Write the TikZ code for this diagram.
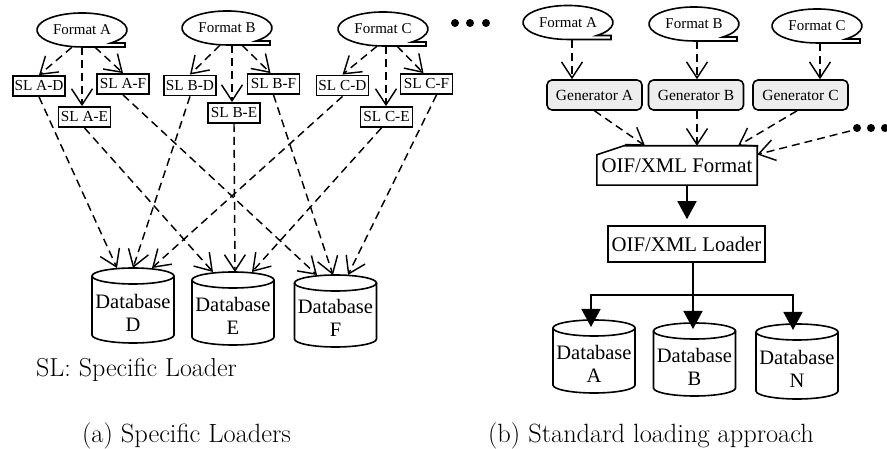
\documentclass[tikz,border=0pt]{standalone}
\usepackage{fontspec}
\newfontfamily\tms{Liberation Serif}
\usetikzlibrary{arrows.meta,calc}
\newcommand\fmtnode[4]{%
 \draw[shapeline] ({#2+28.9},{#3+13}) arc[start angle=50,end angle=-270,x radius=45,y radius=17] -- ({#2+43},{#3+17}) -- ({#2+43},{#3+13}) -- cycle;
 \node[fmt] (#1) at (#2,#3) {#4};}
\newcommand\dbnode[5]{%
 \draw[shapeline] ({#2-41},{#3+8}) -- ({#2-41},{#4-8}) arc[start angle=180,end angle=0,x radius=41,y radius=8] -- ({#2+41},{#3+8});
 \draw[shapeline] (#2,{#3+8}) ellipse[x radius=41,y radius=8];
 \coordinate (#1top) at (#2,#3);
 \node[dbtext] (#1) at (#2,{(#3+#4)/2+7}) {#5};}
\begin{document}
\begin{tikzpicture}[x=1pt,y=-1pt,
 shapeline/.style={line width=1.6pt},
 fmt/.style={inner sep=0pt, minimum width=90pt, minimum height=34pt, font=\tms\fontsize{15}{17}\selectfont},
 slbox/.style={draw, line width=1.8pt, inner sep=0pt, minimum width=52pt, minimum height=20pt, font=\tms\fontsize{15.3}{17}\selectfont},
 genbox/.style={draw, line width=1.6pt, rounded corners=5pt, fill=black!7, inner sep=0pt, minimum width=95pt, minimum height=30pt, font=\tms\fontsize{15.5}{17}\selectfont},
 dbtext/.style={align=center, inner sep=0pt, font=\tms\fontsize{20.5}{23}\selectfont},
 bigtext/.style={inner sep=0pt, font=\tms\fontsize{20.8}{23}\selectfont},
 dasharrow/.style={line width=1.45pt, dash pattern=on 8pt off 5pt, -{Straight Barb[length=16pt,width=21pt,line width=1.45pt]}},
 solidarrow/.style={line width=1.6pt, -{Triangle[length=18pt,width=19pt]}},
 caption/.style={inner sep=0pt, font=\fontsize{26.4}{30}\selectfont}
]
\useasboundingbox (0,0) rectangle (887,449);

% ---------- (a) ----------
\fmtnode{fa}{82}{30}{Format A}
\fmtnode{fb}{227}{28}{Format B}
\fmtnode{fc}{383}{29}{Format C}

\fill (455,23) circle[radius=4];
\fill (470,23) circle[radius=4];
\fill (486,23) circle[radius=4];

\node[slbox] (slad) at (39,86) {SL A-D};
\node[slbox] (slaf) at (123,84) {SL A-F};
\node[slbox] (slae) at (84.5,117) {SL A-E};
\node[slbox] (slbd) at (190,85.5) {SL B-D};
\node[slbox] (slbf) at (273.5,84) {SL B-F};
\node[slbox] (slbe) at (234,113) {SL B-E};
\node[slbox] (slcd) at (342.5,85.5) {SL C-D};
\node[slbox] (slcf) at (426.5,84) {SL C-F};
\node[slbox] (slce) at (386.5,117) {SL C-E};

\dbnode{dbd}{133}{268}{343}{Database\\D}
\dbnode{dbe}{233}{272}{345}{Database\\E}
\dbnode{dbf}{335.5}{275}{347}{Database\\F}

\draw[dasharrow] ([xshift=-10pt]fa.south) -- (slad.north);
\draw[dasharrow] (fa.south) -- ([xshift=-2.5pt]slae.north);
\draw[dasharrow] ([xshift=13pt]fa.south) -- (slaf.north);
\draw[dasharrow] ([xshift=-7pt]fb.south) -- (slbd.north);
\draw[dasharrow] ([xshift=5pt]fb.south) -- ([xshift=-2pt]slbe.north);
\draw[dasharrow] ([xshift=15pt]fb.south) -- ([xshift=-3pt]slbf.north);
\draw[dasharrow] ([xshift=-6pt]fc.south) -- (slcd.north);
\draw[dasharrow] ([xshift=3pt]fc.south) -- ([xshift=-0.5pt]slce.north);
\draw[dasharrow] ([xshift=14pt]fc.south) -- ([xshift=-3pt]slcf.north);

\draw[dasharrow] (slad.south) -- ([xshift=-16pt]dbdtop);
\draw[dasharrow] (slbd.south) -- (dbdtop);
\draw[dasharrow] (slcd.south) -- ([xshift=19pt]dbdtop);
\draw[dasharrow] (slae.south) -- ([xshift=-20pt]dbetop);
\draw[dasharrow] (slbe.south) -- ([xshift=2pt]dbetop);
\draw[dasharrow] ([xshift=-5pt]slce.south) -- ([xshift=19pt]dbetop);
\draw[dasharrow] (slaf.south) -- ([xshift=-18.5pt]dbftop);
\draw[dasharrow] (slbf.south) -- ([xshift=-2.5pt]dbftop);
\draw[dasharrow] ([xshift=10pt]slcf.south) -- ([xshift=12.5pt]dbftop);

\node[caption, anchor=base west, font=\fontsize{26}{30}\selectfont] (sllegend) at (36,377) {SL: Specific Loader};
\node[caption, anchor=base] (capa) at (186.5,442) {(a) Specific Loaders};

% ---------- (b) ----------
\fmtnode{rfa}{568}{22.5}{Format A}
\fmtnode{rfb}{694}{24}{Format B}
\fmtnode{rfc}{817}{26}{Format C}

\node[genbox] (gena) at (594.5,95) {Generator A};
\node[genbox] (genb) at (696,95) {Generator B};
\node[genbox] (genc) at (800.5,95) {Generator C};

\node[bigtext, minimum width=160pt, minimum height=39pt] (oif) at (677,165.5) {OIF/XML Format};
\draw[shapeline] ($(oif.north west)+(0,9)$) -- ($(oif.north west)+(27,0)$) -- (oif.north east) -- (oif.south east) -- (oif.south west) -- cycle;

\node[bigtext, draw, line width=1.6pt, minimum width=157pt, minimum height=36pt] (loader) at (686.5,244) {OIF/XML Loader};

\fill (857,128) circle[radius=4];
\fill (871,128) circle[radius=4];
\fill (885,128) circle[radius=4];
\coordinate (dotsr) at (850,131);

\dbnode{dba}{594}{320}{393}{Database\\A}
\dbnode{dbb}{694.5}{323}{396}{Database\\B}
\dbnode{dbn}{797}{324}{399}{Database\\N}

\draw[dasharrow] ([xshift=4pt]rfa.south) -- ([xshift=-22.5pt]gena.north);
\draw[dasharrow] ([xshift=3pt]rfb.south) -- ([xshift=1pt]genb.north);
\draw[dasharrow] ([xshift=3pt]rfc.south) -- ([xshift=19.5pt]genc.north);

\draw[dasharrow] (gena.south) -- ([xshift=-32pt]oif.north);
\draw[dasharrow] ([xshift=1pt]genb.south) -- ([xshift=20pt]oif.north);
\draw[dasharrow] ([xshift=-3.5pt]genc.south) -- ([xshift=61pt]oif.north);
\draw[dasharrow] (dotsr) -- ([yshift=11pt]oif.east);

\draw[solidarrow, shorten >=6pt] ([xshift=10pt]oif.south) -- ([xshift=0.5pt]loader.north);
\coordinate (jn) at (693,295);
\draw[solidarrow, shorten >=-6pt] ([xshift=6.5pt]loader.south) -- ([xshift=-1.5pt]dbbtop);
\draw[solidarrow, shorten >=-7pt] (jn) -| ([xshift=-3pt]dbatop);
\draw[solidarrow, shorten >=-6pt] (jn) -| ([xshift=-4pt]dbntop);

\node[caption, anchor=base] (capb) at (651,442) {(b) Standard loading approach};
\end{tikzpicture}
\end{document}
